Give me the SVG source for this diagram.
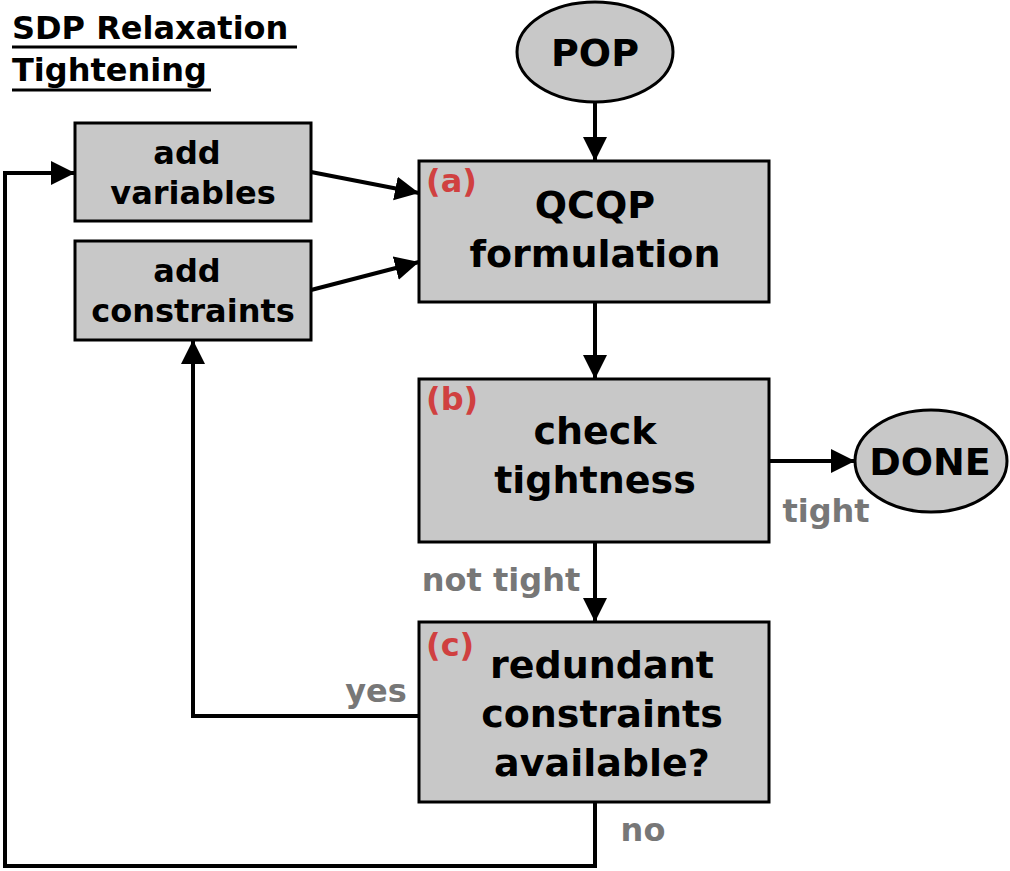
<svg xmlns="http://www.w3.org/2000/svg" width="1010" height="871" viewBox="0 0 1010 871">
<defs>
<style>
text{font-family:"DejaVu Sans","Verdana",sans-serif;font-weight:bold;text-anchor:middle}
.box{fill:#c8c8c8;stroke:#000;stroke-width:3}
.big{font-size:38px;fill:#000}
.small{font-size:32px;fill:#000}
.tag{font-size:32px;fill:#d04040;text-anchor:start}
.lbl{font-size:32px;fill:#777}
.ttl{font-size:32px;fill:#000;text-anchor:start}
.ln{fill:none;stroke:#000;stroke-width:4}
</style>
<marker id="ah" viewBox="0 0 10 10" refX="10" refY="5" markerWidth="6" markerHeight="6.5" markerUnits="strokeWidth" orient="auto">
<path d="M0,0 L10,5 L0,10 Z" fill="#000"/>
</marker>
</defs>
<rect width="1010" height="871" fill="#fff"/>
<g id="title">
<text class="ttl" x="12" y="39">SDP Relaxation</text>
<text class="ttl" x="12" y="81">Tightening</text>
<line x1="12" y1="47" x2="297" y2="47" stroke="#000" stroke-width="3"/>
<line x1="12" y1="90" x2="211" y2="90" stroke="#000" stroke-width="3"/>
</g>
<g id="connectors">
<line class="ln" x1="595" y1="102" x2="595" y2="161" marker-end="url(#ah)"/>
<line class="ln" x1="311" y1="172" x2="419" y2="193" marker-end="url(#ah)"/>
<line class="ln" x1="311" y1="290" x2="419" y2="262" marker-end="url(#ah)"/>
<line class="ln" x1="595" y1="302" x2="595" y2="379" marker-end="url(#ah)"/>
<line class="ln" x1="767" y1="461" x2="855" y2="461" marker-end="url(#ah)"/>
<line class="ln" x1="595" y1="542" x2="595" y2="622" marker-end="url(#ah)"/>
<polyline class="ln" points="418,716 193,716 193,340" marker-end="url(#ah)"/>
<polyline class="ln" points="595,802 595,866 5,866 5,173 75,173" marker-end="url(#ah)"/>
<text class="lbl" x="826" y="522">tight</text>
<text class="lbl" x="501" y="591">not tight</text>
<text class="lbl" x="376" y="702">yes</text>
<text class="lbl" x="643" y="841">no</text>
</g>
<g id="pop">
<ellipse class="box" cx="595" cy="52" rx="78" ry="50"/>
<text class="big" x="595" y="66">POP</text>
</g>
<g id="add-variables">
<rect class="box" x="75" y="123" width="236" height="98"/>
<text class="small" x="187" y="164">add</text>
<text class="small" x="193" y="204">variables</text>
</g>
<g id="add-constraints">
<rect class="box" x="75" y="241" width="236" height="99"/>
<text class="small" x="187" y="282">add</text>
<text class="small" x="193" y="322">constraints</text>
</g>
<g id="qcqp">
<rect class="box" x="419" y="161" width="350" height="141"/>
<text class="tag" x="426" y="192">(a)</text>
<text class="big" x="595" y="218">QCQP</text>
<text class="big" x="595" y="267">formulation</text>
</g>
<g id="check">
<rect class="box" x="419" y="379" width="350" height="163"/>
<text class="tag" x="426" y="410">(b)</text>
<text class="big" x="595" y="444">check</text>
<text class="big" x="595" y="493">tightness</text>
</g>
<g id="done">
<ellipse class="box" cx="931" cy="461" rx="76" ry="51"/>
<text class="big" x="930" y="475">DONE</text>
</g>
<g id="redundant">
<rect class="box" x="419" y="622" width="350" height="180"/>
<text class="tag" x="426" y="656">(c)</text>
<text class="big" x="602" y="678">redundant</text>
<text class="big" x="602" y="727">constraints</text>
<text class="big" x="602" y="776">available?</text>
</g>
</svg>
